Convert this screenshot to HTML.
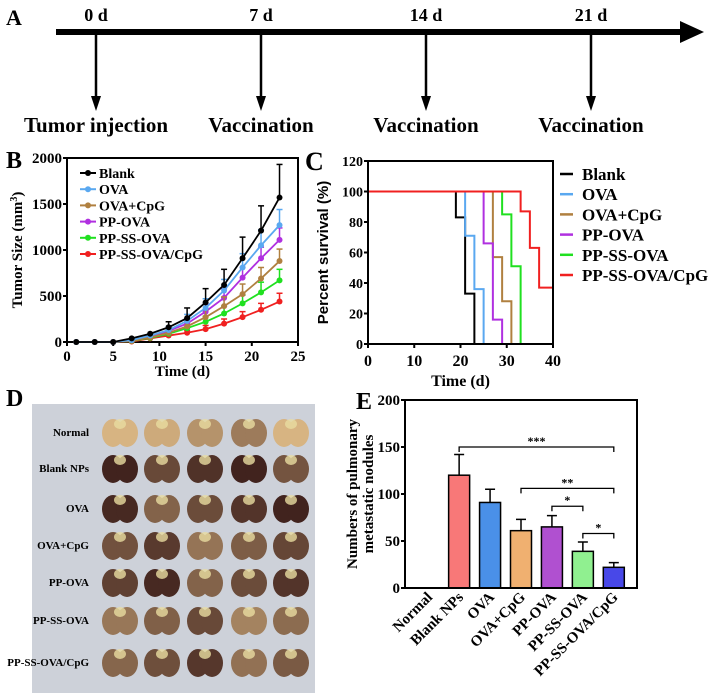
<!DOCTYPE html>
<html><head><meta charset="utf-8"><style>
html,body{margin:0;padding:0;background:#fff;}
svg{display:block;font-family:"Liberation Serif",serif;font-weight:bold;}
</style></head><body>
<svg id="fig" width="722" height="696" viewBox="0 0 722 696" xmlns="http://www.w3.org/2000/svg">
<g id="pA">
<text x="6" y="25" font-size="22">A</text>
<line x1="56" y1="32" x2="684" y2="32" stroke="#000" stroke-width="6"/>
<polygon points="680,21 704,32 680,43" fill="#000"/>
</g>
<g id="pB"></g>
<g id="pC"></g>
<g id="pD"></g>
<g id="pE"></g>
</svg>
<script>
// ---- Panel A data
const timeDays=["0 d","7 d","14 d","21 d"];
const timeEvents=["Tumor injection","Vaccination","Vaccination","Vaccination"];
// ---- Panel B data
const bDays=[1,3,5,7,9,11,13,15,17,19,21,23];
const bNames=["Blank","OVA","OVA+CpG","PP-OVA","PP-SS-OVA","PP-SS-OVA/CpG"];
const bBlank=[0,0,0,40,90,160,260,430,620,910,1210,1570];
const bOVA=[0,0,0,20,70,130,230,370,560,810,1050,1270];
const bOVACpG=[0,0,0,10,50,100,170,270,390,520,690,880];
const bPPOVA=[0,0,0,15,60,120,200,330,480,700,910,1110];
const bPPSS=[0,0,0,10,45,90,150,220,310,420,540,670];
const bPPSSCpG=[0,0,0,5,40,70,100,140,200,270,350,440];
const bErrBlank=[0,0,0,0,0,60,110,150,170,230,270,360];
const bErrOVA=[0,0,0,0,0,40,70,100,120,150,170,170];
const bErrOVACpG=[0,0,0,0,0,30,50,80,100,110,120,130];
const bErrPPOVA=[0,0,0,0,0,30,50,80,100,110,120,130];
const bErrPPSS=[0,0,0,0,0,20,40,60,80,90,110,120];
const bErrPPSSCpG=[0,0,0,0,0,15,25,40,50,60,70,90];
const bYTicks=[0,500,1000,1500,2000];
const bXTicks=[0,5,10,15,20,25];
// ---- Panel C data
const cSteps=[[19,21,23],[21,23,25],[27,29,31],[25,27,29],[29,31,33],[33,35,37]];
const cBlank=[100,83,33,0];
const cOVA=[100,71,36,0];
const cOVACpG=[100,57,28,0];
const cPPOVA=[100,66,16,0];
const cPPSS=[100,85,51,0];
const cPPSSCpG=[100,87,63,37];
const cYTicks=[0,20,40,60,80,100,120];
const cXTicks=[0,10,20,30,40];
// ---- Panel D
const dRows=["Normal","Blank NPs","OVA","OVA+CpG","PP-OVA","PP-SS-OVA","PP-SS-OVA/CpG"];
const dDark=[0.15,0.9,0.8,0.6,0.8,0.5,0.7];
// ---- Panel E data
const eCats=["Normal","Blank NPs","OVA","OVA+CpG","PP-OVA","PP-SS-OVA","PP-SS-OVA/CpG"];
const eVals=[0,120,91,61,65,39,22];
const eErr=[0,22,14,12,12,10,5];
const eYTicks=[0,50,100,150,200];
const eSig=[[1,6,150,"***"],[3,6,106,"**"],[4,5,87,"*"],[5,6,58,"*"]];

const NS="http://www.w3.org/2000/svg";
function mk(parent,tag,attrs,text){const e=document.createElementNS(NS,tag);for(const k in attrs)e.setAttribute(k,attrs[k]);if(text!==undefined)e.textContent=text;parent.appendChild(e);return e;}
const colors=["#000","#5aa8f0","#b08040","#b030e0","#20e020","#f02020"];

// Panel A
const pA=document.getElementById('pA');
const aX=[96,261,426,591];
timeDays.forEach((d,i)=>{
 let t=mk(pA,'text',{x:aX[i],y:21,'font-size':18,'text-anchor':'middle'},d);
 
 let l=mk(pA,'line',{x1:aX[i],y1:35,x2:aX[i],y2:100,stroke:'#000','stroke-width':2.5});
 
 let h=mk(pA,'polygon',{points:`${aX[i]-5},96 ${aX[i]+5},96 ${aX[i]},111`,fill:'#000'});
 
 let e=mk(pA,'text',{x:aX[i],y:132,'font-size':21,'text-anchor':'middle'},timeEvents[i]);
 
});

// Panel B
const pB=document.getElementById('pB');
const bx0=67,bx1=298,by0=342,by1=158;
const bxs=v=>bx0+(v/25)*(bx1-bx0), bys=v=>by0-(v/2000)*(by0-by1);
let t;
t=mk(pB,'text',{x:6,y:168,'font-size':24},'B');
t=mk(pB,'rect',{x:bx0,y:by1,width:bx1-bx0,height:by0-by1,fill:'none',stroke:'#000','stroke-width':2});
bYTicks.forEach(v=>{mk(pB,'line',{x1:bx0-4,x2:bx0,y1:bys(v),y2:bys(v),stroke:'#000','stroke-width':2});
 t=mk(pB,'text',{x:bx0-5,y:bys(v)+5,'font-size':15,'text-anchor':'end'},v);});
bXTicks.forEach(v=>{mk(pB,'line',{x1:bxs(v),x2:bxs(v),y1:by0,y2:by0+4,stroke:'#000','stroke-width':2});
 t=mk(pB,'text',{x:bxs(v),y:by0+19,'font-size':15,'text-anchor':'middle'},v);});
t=mk(pB,'text',{x:bxs(12.5),y:376,'font-size':15,'text-anchor':'middle'},'Time (d)');
t=mk(pB,'text',{transform:`translate(22,${(by0+by1)/2}) rotate(-90)`,'font-size':15,'text-anchor':'middle'});
t.innerHTML='Tumor Size (mm<tspan baseline-shift="super" font-size="10">3</tspan>)';
const bSeries=[bBlank,bOVA,bOVACpG,bPPOVA,bPPSS,bPPSSCpG];
const bErrs=[bErrBlank,bErrOVA,bErrOVACpG,bErrPPOVA,bErrPPSS,bErrPPSSCpG];
for(let s=5;s>=0;s--){
 const g=mk(pB,'g',{});
 bErrs[s].forEach((e,i)=>{if(e>0){const x=bxs(bDays[i]),y=bys(bSeries[s][i]),y2=bys(bSeries[s][i]+e);
  mk(g,'line',{x1:x,x2:x,y1:y,y2:y2,stroke:colors[s],'stroke-width':1.5});mk(g,'line',{x1:x-3,x2:x+3,y1:y2,y2:y2,stroke:colors[s],'stroke-width':1.5});}});
 mk(g,'polyline',{points:bSeries[s].map((v,i)=>bxs(bDays[i])+','+bys(v)).join(' '),fill:'none',stroke:colors[s],'stroke-width':1.8});
 bSeries[s].forEach((v,i)=>{const p=mk(g,'circle',{cx:bxs(bDays[i]),cy:bys(v),r:3,fill:colors[s]});});
}
bNames.forEach((n,i)=>{const y=173+i*16.2;const g=mk(pB,'g',{});
 mk(g,'line',{x1:80,x2:96,y1:y,y2:y,stroke:colors[i],'stroke-width':2});mk(g,'circle',{cx:88,cy:y,r:3,fill:colors[i]});
 mk(g,'text',{x:99,y:y+5,'font-size':14},n);});

// Panel C
const pC=document.getElementById('pC');
const cx0=368,cx1=553,cy0=344,cy1=161;
const cxs=v=>cx0+(v/40)*(cx1-cx0), cys=v=>cy0-(v/120)*(cy0-cy1);
t=mk(pC,'text',{x:305,y:170,'font-size':26},'C');
cYTicks.forEach(v=>{mk(pC,'line',{x1:cx0-4,x2:cx0,y1:cys(v),y2:cys(v),stroke:'#000','stroke-width':2});
 t=mk(pC,'text',{x:cx0-5,y:cys(v)+5,'font-size':14,'text-anchor':'end'},v);});
cXTicks.forEach(v=>{mk(pC,'line',{x1:cxs(v),x2:cxs(v),y1:cy0,y2:cy0+4,stroke:'#000','stroke-width':2});
 t=mk(pC,'text',{x:cxs(v),y:cy0+22,'font-size':16,'text-anchor':'middle'},v);});
t=mk(pC,'text',{x:cxs(20),y:386,'font-size':16,'text-anchor':'middle'},'Time (d)');
t=mk(pC,'text',{transform:`translate(328,${(cy0+cy1)/2}) rotate(-90)`,'font-size':15,'text-anchor':'middle','font-family':'Liberation Sans, sans-serif'},'Percent survival (%)');
const cSeries=[cBlank,cOVA,cOVACpG,cPPOVA,cPPSS,cPPSSCpG];
cSeries.forEach((vals,s)=>{
 let pts=[[0,vals[0]]];const st=cSteps[s];
 st.forEach((tm,k)=>{pts.push([tm,vals[k]]);pts.push([tm,vals[k+1]]);});
 pts.push([vals[vals.length-1]>0?40:st[st.length-1],vals[vals.length-1]]);
 const p=mk(pC,'polyline',{points:pts.map(q=>cxs(q[0])+','+cys(q[1])).join(' '),fill:'none',stroke:colors[s],'stroke-width':2});
 
});
t=mk(pC,'rect',{x:cx0,y:cy1,width:cx1-cx0,height:cy0-cy1,fill:'none',stroke:'#000','stroke-width':2});
bNames.forEach((n,i)=>{const y=174+i*20.2;const g=mk(pC,'g',{});
 mk(g,'line',{x1:560,x2:573,y1:y,y2:y,stroke:colors[i],'stroke-width':2.5});
 mk(g,'text',{x:582,y:y+6,'font-size':17},n);});

// Panel D
const pD=document.getElementById('pD');
t=mk(pD,'text',{x:6,y:406,'font-size':24},'D');
t=mk(pD,'rect',{x:32,y:404,width:283,height:289,fill:'#cdd1d9'});
const colX=[120,162,205,249,291],rowY=[432,468,508,545,582,620,662];
dRows.forEach((r,i)=>{
 t=mk(pD,'text',{x:89,y:rowY[i]+4,'font-size':11,'text-anchor':'end'},r);
 colX.forEach((x,j)=>{const d=Math.min(1,Math.max(0,dDark[i]+((j*37+i*13)%7-3)*0.08));
  const c1=`rgb(${Math.round(215-d*150)},${Math.round(180-d*145)},${Math.round(130-d*100)})`;
  const g=mk(pD,'g',{});
  mk(g,'ellipse',{cx:x-7,cy:rowY[i]+1,rx:11,ry:14,fill:c1});mk(g,'ellipse',{cx:x+7,cy:rowY[i]+1,rx:11,ry:14,fill:c1});
  mk(g,'ellipse',{cx:x,cy:rowY[i]-8,rx:6,ry:5,fill:'#e8dca0',opacity:0.8});});
});

// Panel E
const pE=document.getElementById('pE');
const ex0=405,ex1=637,ey0=588,ey1=400;
const band=(ex1-ex0)/7.5;
const exs=i=>ex0+band*(0.75+i), eys=v=>ey0-(v/200)*(ey0-ey1);
const eColors=["#fff","#f87878","#4a90e8","#f0b070","#b050d0","#90f090","#4848e8"];
t=mk(pE,'text',{x:356,y:409,'font-size':24},'E');
eYTicks.forEach(v=>{mk(pE,'line',{x1:ex0-4,x2:ex0,y1:eys(v),y2:eys(v),stroke:'#000','stroke-width':2});
 t=mk(pE,'text',{x:ex0-5,y:eys(v)+5,'font-size':15,'text-anchor':'end'},v);});
t=mk(pE,'text',{transform:`translate(366,${(ey0+ey1)/2}) rotate(-90)`,'font-size':15,'text-anchor':'middle'});
t.innerHTML='<tspan x="0" dy="-9">Numbers of pulmonary</tspan><tspan x="0" dy="16">metastatic nodules</tspan>';
eVals.forEach((v,i)=>{if(v<=0)return;const x=exs(i),w=21;
 const err=mk(pE,'path',{d:`M${x},${eys(v)} V${eys(v+eErr[i])} M${x-5},${eys(v+eErr[i])} H${x+5}`,stroke:'#000','stroke-width':1.5,fill:'none'});
 
 const b=mk(pE,'rect',{x:x-w/2,y:eys(v),width:w,height:ey0-eys(v),fill:eColors[i],stroke:'#000','stroke-width':1.5});
 });
eSig.forEach(s=>{const x1=exs(s[0]),x2=exs(s[1]),y=eys(s[2]);
 const p=mk(pE,'path',{d:`M${x1},${y+5} V${y} H${x2} V${y+5}`,stroke:'#000','stroke-width':1.3,fill:'none'});
 
 const tt=mk(pE,'text',{x:(x1+x2)/2,y:y-2,'font-size':12,'text-anchor':'middle'},s[3]);
 });
t=mk(pE,'rect',{x:ex0,y:ey1,width:ex1-ex0,height:ey0-ey1,fill:'none',stroke:'#000','stroke-width':2});
eCats.forEach((c,i)=>{const x=exs(i)+5,y=ey0+10;
 const tt=mk(pE,'text',{transform:`translate(${x},${y}) rotate(-45)`,'font-size':15,'text-anchor':'end'},c);
 });
</script>
</body></html>
